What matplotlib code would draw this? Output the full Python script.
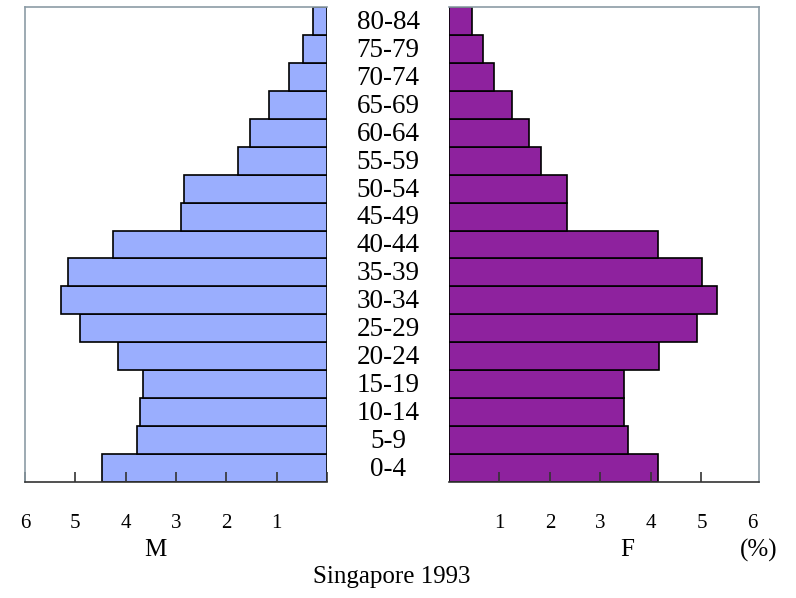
import matplotlib
matplotlib.use("Agg")
import matplotlib.pyplot as plt
from matplotlib.transforms import blended_transform_factory

age_groups = ["0-4", "5-9", "10-14", "15-19", "20-24", "25-29", "30-34", "35-39",
              "40-44", "45-49", "50-54", "55-59", "60-64", "65-69", "70-74", "75-79", "80-84"]
male = [4.47, 3.78, 3.72, 3.66, 4.15, 4.90, 5.29, 5.15, 4.25, 2.90, 2.84, 1.77, 1.53, 1.15, 0.75, 0.47, 0.27]
female = [4.14, 3.55, 3.46, 3.46, 4.15, 4.92, 5.30, 5.02, 4.14, 2.34, 2.34, 1.83, 1.58, 1.25, 0.90, 0.68, 0.46]
ticks = [1, 2, 3, 4, 5, 6]
tick_labels = ["1", "2", "3", "4", "5", "6"]

plt.rcParams['font.family'] = ['Liberation Serif', 'DejaVu Serif']

W, H = 796, 598
fig = plt.figure(figsize=(W / 100, H / 100), dpi=100)

male_color = "#9aaefe"
female_color = "#8e229e"
spine_gray = "#8c9ca6"

axL = fig.add_axes([25 / W, 1 - 482 / H, 302 / W, 475 / H])
axR = fig.add_axes([449 / W, 1 - 482 / H, 310 / W, 475 / H])

y = list(range(len(age_groups)))
axL.barh(y, male, height=1.0, color=male_color, edgecolor="black", linewidth=1.2)
axR.barh(y, female, height=1.0, color=female_color, edgecolor="black", linewidth=1.2)

axL.set_xlim(6, 0)
axR.set_xlim(0, 6.14)
for ax in (axL, axR):
    ax.set_ylim(-0.5, len(age_groups) - 0.5)
    ax.set_yticks([])
    ax.tick_params(axis='x', direction='in', length=7, width=1.2, pad=23,
                   labelsize=15, color="#333333")

axL.set_xticks([0] + ticks)
axL.set_xticklabels([""] + tick_labels)
axR.set_xticks(ticks)
axR.set_xticklabels(tick_labels)
axR.xaxis.get_major_ticks()[-1].tick1line.set_visible(False)

axL.spines['right'].set_visible(False)
axL.spines['left'].set_color(spine_gray)
axL.spines['top'].set_color(spine_gray)
axL.spines['bottom'].set_color("#333333")
axR.spines['left'].set_visible(False)
axR.spines['right'].set_color(spine_gray)
axR.spines['top'].set_color(spine_gray)
axR.spines['bottom'].set_color("#333333")
for ax in (axL, axR):
    for s in ax.spines.values():
        s.set_linewidth(1.2)

trans = blended_transform_factory(fig.transFigure, axR.transData)
for i, lab in enumerate(age_groups):
    fig.text(388 / W, i - 0.05, lab, transform=trans, ha='center', va='center', fontsize=19.5)

fig.text(155 / W, 1 - 550 / H, "M", ha='center', va='center', fontsize=18)
fig.text(627 / W, 1 - 550 / H, "F", ha='center', va='center', fontsize=18)
fig.text(759 / W, 1 - 550 / H, "(%)", ha='center', va='center', fontsize=18)
fig.text(392 / W, 1 - 577 / H, "Singapore 1993", ha='center', va='center', fontsize=18)

fig.savefig("out.png", dpi=100)
